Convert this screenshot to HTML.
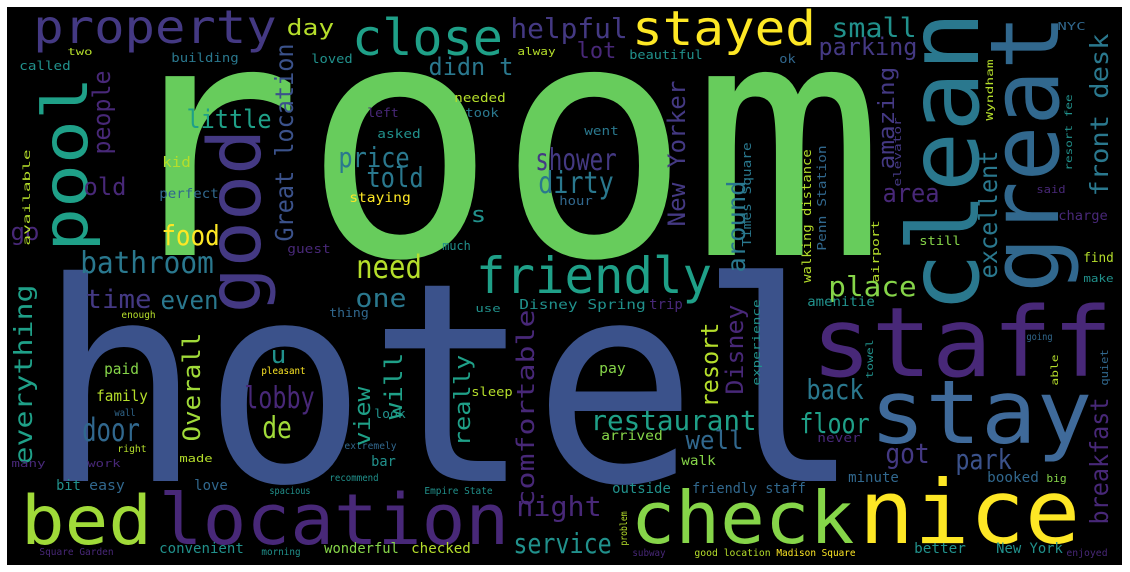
<!DOCTYPE html>
<html><head><meta charset="utf-8">
<style>
html,body{margin:0;padding:0;background:#fff;}
svg{display:block;}
text{font-family:"DejaVu Sans Mono","Liberation Mono",monospace;}
</style></head>
<body>
<svg id="cloud" width="1130" height="572" viewBox="0 0 1130 572" xmlns="http://www.w3.org/2000/svg">
<rect x="7" y="7" width="1115" height="558" fill="#000"/>
<g id="words"></g>
</svg>
<script>
const G='#67cc5c',B='#3b528b',T='#21918c',T2='#2a788e',T3='#1fa088',P='#482878',P2='#443983',Y='#fde725',O='#b5de2b',O2='#a0da39',L='#86d549',SB='#31688e',SB2='#3f6a9a';
const words=["room","hotel","property","day","close","helpful","two","building","called","loved","didn t","alway","pool","people","little","Great location","good","price","told","kid","old","perfect","staying","food","go","bathroom","need","s","much","needed","took","left","asked","guest","friendly",
"stayed","small","parking","lot","beautiful","ok","shower","dirty","went","hour","area","excellent","front desk","still","NYC","said","charge","find","make","place","clean","great","New Yorker","around","Times Square","walking distance","Penn Station","amazing","elevator","airport","Wyndham","resort fee",
"everything","available","time","even","one","enough","thing","use","u","paid","pleasant","family","lobby","door","de","wall","look","sleep","right","extremely","many","work","made","bar","bit","easy","love","recommend","spacious","Empire State","bed","location","convenient","morning","wonderful","checked","Square Garden","night","service","Disney Spring","trip","amenitie","Overall","will","view","really","comfortable",
"resort","Disney","experience","towel","pay","restaurant","arrived","well","walk","outside","friendly staff","back","floor","never","staff","stay","got","park","minute","booked","big","breakfast","quiet","able","going","check","nice","problem","subway","good location","Madison Square","better","New York","enjoyed"];
const sizes=[327,278,46,22,50,28,10,12,12,12,24,11,62,24,26,25,73,28,28,14,24,13,13,28,24,30,32,22,12,12,12,12,12,12,50,
48,27,24,22,12,12,30,30,12,12,26,25,25,12,11,11,13,13,11,28,98,95,24,25,12,12,12,22,11,11,10,10,
25,10,26,26,26,10,12,11,24,15,10,15,30,32,30,10,12,12,10,10,11,11,11,14,14,14,14,10,10,10,68,70,14,10,14,14,10,28,28,13,14,13,24,24,22,22,24,
24,24,11,10,14,28,13,26,13,14,14,28,28,12,96,88,28,28,14,14,11,25,11,10,10,72,88,10,10,10,10,14,14,10];
const colors=[G,B,P2,O,T3,P2,O,T2,T,T,T2,O,T3,P,T3,B,P2,T2,T2,O,P,SB,Y,Y,P,T2,O,T,T,O,T2,P,T,P,T3,
Y,T,P2,P,T,SB,P2,T2,T2,SB,P,T2,T2,L,SB,P,P,O,T,L,T2,SB,P2,T2,T2,O,SB,P2,P2,O,O,T,
T3,O,P2,T2,T2,O,SB,T,T,L,Y,O,P,SB,O2,SB,T,O,O,SB,P,P,O,T,T,SB,SB,T,T,T,O2,P,T,T,L,O,P,P,T,T,P,T,O2,T3,T3,T3,P,
O,P,T,T,L,T3,L,SB,L,T,SB,T2,T3,P,P,SB2,P2,B,SB,SB,L,P,SB,O,SB,L,Y,O,P,O,Y,T,T,P];
const vertical=[0,0,0,0,0,0,0,0,0,0,0,0,1,1,0,1,1,0,0,0,0,0,0,0,0,0,0,0,0,0,0,0,0,0,0,
0,0,0,0,0,0,0,0,0,0,0,1,1,0,0,0,0,0,0,0,1,1,1,1,1,1,1,1,1,1,1,1,
1,1,0,0,0,0,0,0,0,0,0,0,0,0,0,0,0,0,0,0,0,0,0,0,0,0,0,0,0,0,0,0,0,0,0,0,0,0,0,0,0,0,1,1,1,1,1,
1,1,1,1,0,0,0,0,0,0,0,0,0,0,0,0,0,0,0,0,0,1,1,1,0,0,0,1,0,0,0,0,0,0];
const layout=[[128,866,255],[54,846,481],[36,274,43],[288,333,35],[355,500,55],[512,626,38],[68,92,55],[172,238,62],[20,70,70],[312,352,63],[430,512,75],[518,555,55],[248,80,87],[153,72,110],[188,270,128],[240,45,293],[309,133,260],[340,408,167],[368,422,187],[163,190,167],[85,125,195],[160,218,198],[350,410,202],[163,218,245],[12,38,240],[82,212,273],[358,420,278],[472,485,222],[443,470,250],[455,505,102],[466,498,117],[368,398,117],[378,420,138],[288,330,253],[479,709,293],
[635,813,45],[833,915,37],[820,916,55],[578,615,58],[630,702,59],[780,795,63],[537,615,170],[540,612,193],[585,618,135],[560,592,205],[884,938,202],[277,152,997],[195,35,1108],[920,960,245],[1058,1085,30],[1037,1065,193],[1059,1107,220],[1084,1113,262],[1084,1113,282],[830,915,296],[307,17,978],[287,20,1058],[225,82,685],[271,182,745],[246,143,751],[282,150,811],[250,146,826],[168,68,894],[186,118,901],[282,221,879],[120,60,993],[170,95,1072],
[463,286,32],[245,150,30],[87,150,308],[162,217,309],[357,405,307],[122,155,318],[330,368,317],[476,500,312],[272,285,363],[105,138,374],[262,305,374],[97,147,401],[246,313,408],[84,138,441],[264,290,438],[115,135,416],[375,405,418],[472,512,396],[118,146,452],[345,396,449],[12,45,467],[88,120,467],[180,212,462],[372,395,466],[57,80,490],[90,124,490],[195,227,490],[330,378,481],[270,310,494],[425,492,494],[25,148,544],[163,505,544],[160,243,553],[262,300,555],[325,398,553],[412,470,553],[40,113,555],[518,600,516],[515,610,553],[520,645,309],[650,682,309],[808,874,306],[440,334,200],[418,354,402],[445,388,370],[445,356,470],[506,311,534],
[406,324,718],[393,306,743],[385,300,760],[378,340,873],[600,625,373],[592,755,430],[602,662,440],[687,742,449],[682,715,465],[613,670,493],[693,805,493],[808,862,399],[801,868,433],[818,860,442],[817,1107,376],[875,1087,443],[887,928,463],[957,1010,469],[849,898,482],[988,1038,482],[1047,1066,482],[523,399,1108],[385,350,1108],[385,355,1058],[1027,1052,340],[635,850,543],[864,1075,543],[545,512,627],[633,665,556],[695,770,556],[777,855,556],[915,965,553],[997,1062,553],[1067,1107,556]];

const NS='http://www.w3.org/2000/svg';
const layer=document.getElementById('words');
for(let i=0;i<words.length;i++){
  const fs=sizes[i], box=layout[i];
  const t=document.createElementNS(NS,'text');
  
  
  t.setAttribute('font-size', fs);
  t.setAttribute('fill', colors[i]);
  t.setAttribute('lengthAdjust','spacingAndGlyphs');
  const pad=0.06*fs;
  if(!vertical[i]){
    t.setAttribute('x', box[0]-pad);
    t.setAttribute('y', box[2]);
    t.setAttribute('textLength', Math.max(4,box[1]-box[0]+2*pad));
  } else {
    const len=box[0]-box[1];
    t.setAttribute('x', 0);
    t.setAttribute('y', 0);
    t.setAttribute('textLength', Math.max(4,len+2*pad));
    t.setAttribute('transform','translate('+box[2]+','+(box[0]+pad)+') rotate(-90)');
  }
  t.textContent=words[i];
  layer.appendChild(t);
}
</script>
</body></html>
